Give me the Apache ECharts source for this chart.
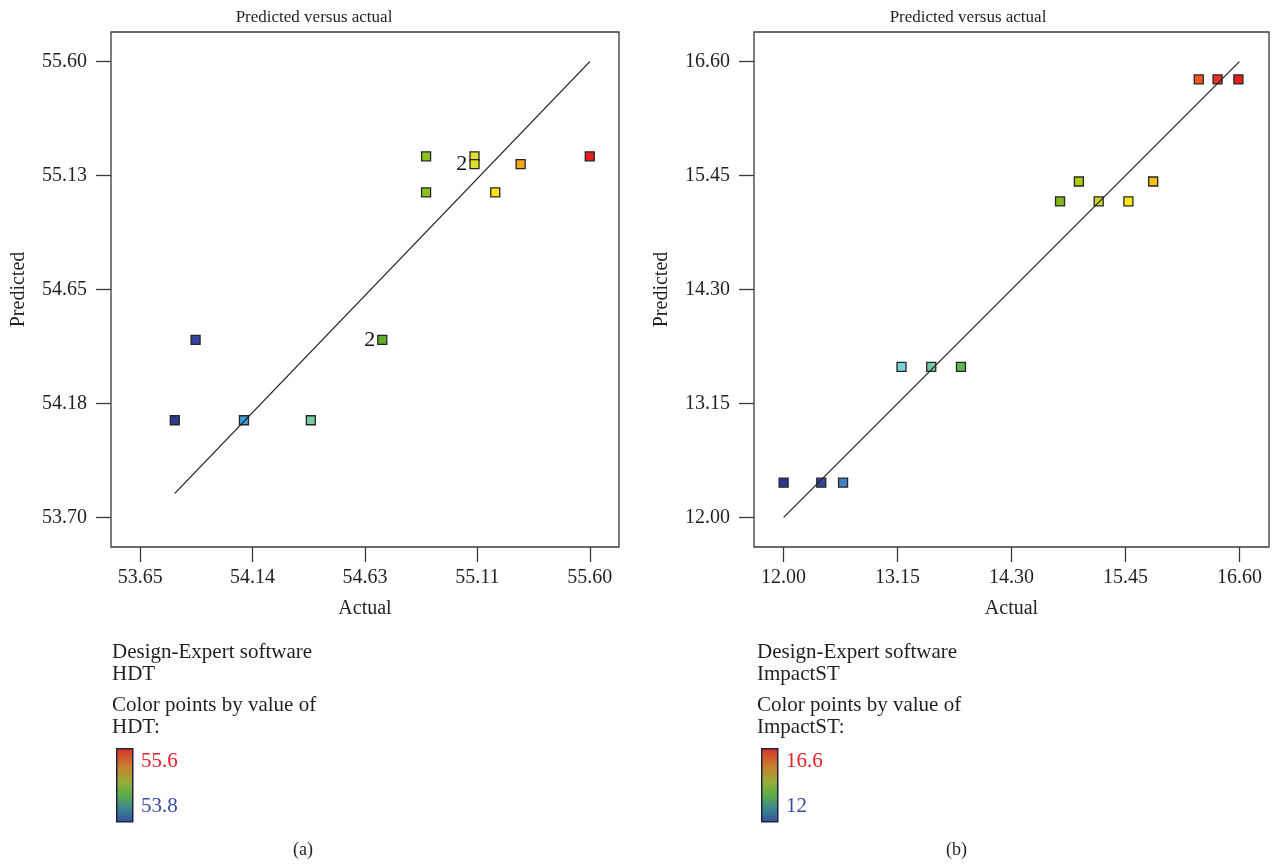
<!DOCTYPE html>
<html><head><meta charset="utf-8">
<script src="https://cdn.jsdelivr.net/npm/echarts@6/dist/echarts.min.js"></script>
<style>html,body{margin:0;padding:0;background:#fff}#c{width:1274px;height:867px}</style>
</head><body><div id="c"></div><script>
// ---- Data (a) HDT ----
const hdtActual    = [53.80, 53.89, 54.10, 54.39, 54.70, 54.89, 54.89, 55.10, 55.10, 55.19, 55.30, 55.60];
const hdtPredicted = [54.105, 54.44, 54.105, 54.105, 54.44, 55.205, 55.055, 55.205, 55.173, 55.055, 55.173, 55.205];
const hdtCount     = [1, 1, 1, 1, 2, 1, 1, 1, 2, 1, 1, 1];
const hdtXTicks    = [53.65, 54.1375, 54.625, 55.1125, 55.60];
const hdtXLabels   = ['53.65', '54.14', '54.63', '55.11', '55.60'];
const hdtYTicks    = [53.70, 54.175, 54.65, 55.125, 55.60];
const hdtYLabels   = ['53.70', '54.18', '54.65', '55.13', '55.60'];
const hdtRange     = [53.8, 55.6];
const hdtRangeLabels = ['55.6', '53.8'];

// ---- Data (b) ImpactST ----
const impActual    = [12.00, 12.38, 12.60, 13.19, 13.49, 13.79, 14.79, 14.98, 15.18, 15.48, 15.73, 16.19, 16.38, 16.59];
const impPredicted = [12.35, 12.35, 12.35, 13.52, 13.52, 13.52, 15.19, 15.39, 15.19, 15.19, 15.39, 16.42, 16.42, 16.42];
const impCount     = [1, 1, 1, 1, 1, 1, 1, 1, 1, 1, 1, 1, 1, 1];
const impXTicks    = [12.00, 13.15, 14.30, 15.45, 16.60];
const impXLabels   = ['12.00', '13.15', '14.30', '15.45', '16.60'];
const impYTicks    = [12.00, 13.15, 14.30, 15.45, 16.60];
const impYLabels   = ['12.00', '13.15', '14.30', '15.45', '16.60'];
const impRange     = [12, 16.6];
const impRangeLabels = ['16.6', '12'];

// ---- Colour scales (value -> colour), style only ----
const hdtStops = [[53.75,'#2b388f'],[53.95,'#374ba3'],[54.10,'#3f9ddb'],[54.40,'#78cc9c'],[54.70,'#5eae26'],
  [54.90,'#8fc21a'],[55.10,'#e0e024'],[55.20,'#ffe312'],[55.30,'#f8a51a'],[55.60,'#e61e1e']];
const impStops = [[12.0,'#2b388f'],[12.4,'#36489e'],[12.6,'#437fc6'],[13.19,'#7cd2dc'],[13.49,'#74c8a0'],
  [13.79,'#62b656'],[14.79,'#83b720'],[14.98,'#aecb10'],[15.18,'#d6d924'],[15.48,'#ffe914'],[15.73,'#f9c214'],
  [16.19,'#f05a1e'],[16.38,'#e63326'],[16.6,'#e61e1e']];
function hex2rgb(h){return [parseInt(h.substr(1,2),16),parseInt(h.substr(3,2),16),parseInt(h.substr(5,2),16)];}
function colorAt(stops, v){
  if (v <= stops[0][0]) return stops[0][1];
  for (let i = 1; i < stops.length; i++) {
    if (v <= stops[i][0]) {
      const t = (v - stops[i-1][0]) / (stops[i][0] - stops[i-1][0]);
      const a = hex2rgb(stops[i-1][1]), b = hex2rgb(stops[i][1]);
      return 'rgb(' + a.map((x, k) => Math.round(x + (b[k] - x) * t)).join(',') + ')';
    }
  }
  return stops[stops.length-1][1];
}

const FONT = 'Liberation Serif';
const TXT = '#231f20';
const FRAME = '#3a3a3a';
const PAD = 0.065;

function nearestLabel(ticks, labels, v){
  let best = 0;
  ticks.forEach((t, i) => { if (Math.abs(t - v) < Math.abs(ticks[best] - v)) best = i; });
  return labels[best];
}
function makeAxis(ticks, labels, idx, isY, name, nameGap){
  const span = ticks[ticks.length-1] - ticks[0];
  return {
    type: 'value', gridIndex: idx,
    min: ticks[0] - span * PAD, max: ticks[ticks.length-1] + span * PAD,
    splitLine: {show: false},
    axisLine: {show: false},
    axisTick: {show: true, inside: false, length: 15, customValues: ticks, lineStyle: {color: FRAME, width: 1.3}},
    axisLabel: {show: true, customValues: ticks, margin: isY ? 24 : 21,
      formatter: v => nearestLabel(ticks, labels, v),
      fontFamily: FONT, fontSize: 20, color: TXT},
    name: name, nameLocation: 'middle', nameGap: nameGap,
    nameTextStyle: {fontFamily: FONT, fontSize: 20, color: TXT}
  };
}
function points(actual, predicted, count){
  return actual.map((a, i) => [a, predicted[i], count[i]]);
}
function scatter(idx, actual, predicted, count, stops){
  return {
    type: 'scatter', xAxisIndex: idx, yAxisIndex: idx, symbol: 'rect', symbolSize: 9,
    data: points(actual, predicted, count),
    itemStyle: {color: p => colorAt(stops, p.value[0]), borderColor: '#262626', borderWidth: 1.3, opacity: 1},
    label: {show: true, position: 'left', distance: 2,
      formatter: p => p.value[2] > 1 ? String(p.value[2]) : '',
      fontFamily: FONT, fontSize: 22, color: '#111', textBorderWidth: 0},
    z: 2
  };
}
function fitLine(idx, range){
  return {
    type: 'line', xAxisIndex: idx, yAxisIndex: idx, symbol: 'none', silent: true,
    data: [[range[0], range[0]], [range[1], range[1]]],
    lineStyle: {color: '#222', width: 1.3}, z: 3
  };
}
function legendBlock(x, resp, rangeLabels){
  const t = (txt, y) => ({type: 'text', left: x, top: y,
    style: {text: txt, font: '21px "' + FONT + '"', fill: TXT}});
  return [
    t('Design-Expert software', 642), t(resp, 664), t('Color points by value of', 695), t(resp + ':', 717),
    {type: 'rect', left: x + 4, top: 748, shape: {width: 16, height: 73},
      style: {fill: new echarts.graphic.LinearGradient(0, 0, 0, 1, [
        {offset: 0, color: '#d9312a'}, {offset: 0.25, color: '#c8802e'}, {offset: 0.45, color: '#9aab3a'},
        {offset: 0.62, color: '#5fae44'}, {offset: 0.8, color: '#3d8a8c'}, {offset: 1, color: '#34509e'}]),
        stroke: '#1e2340', lineWidth: 1.5}},
    {type: 'text', left: x + 29, top: 751, style: {text: rangeLabels[0], font: '21px "' + FONT + '"', fill: '#e3202a'}},
    {type: 'text', left: x + 29, top: 796, style: {text: rangeLabels[1], font: '21px "' + FONT + '"', fill: '#3b4aa0'}}
  ];
}

const chart = echarts.init(document.getElementById('c'), null, {renderer: 'canvas'});
chart.setOption({
  backgroundColor: '#fff',
  animation: false,
  title: [
    {text: 'Predicted versus actual', left: 309, top: 4, textAlign: 'center',
      textStyle: {fontFamily: FONT, fontSize: 17, fontWeight: 'normal', color: TXT}},
    {text: 'Predicted versus actual', left: 963, top: 4, textAlign: 'center',
      textStyle: {fontFamily: FONT, fontSize: 17, fontWeight: 'normal', color: TXT}}
  ],
  grid: [
    {left: 111, top: 32, width: 508, height: 515, show: true, borderColor: FRAME, borderWidth: 1.3, backgroundColor: '#fff'},
    {left: 754, top: 32, width: 515, height: 515, show: true, borderColor: FRAME, borderWidth: 1.3, backgroundColor: '#fff'}
  ],
  xAxis: [
    makeAxis(hdtXTicks, hdtXLabels, 0, false, 'Actual', 52),
    makeAxis(impXTicks, impXLabels, 1, false, 'Actual', 52)
  ],
  yAxis: [
    makeAxis(hdtYTicks, hdtYLabels, 0, true, 'Predicted', 82),
    makeAxis(impYTicks, impYLabels, 1, true, 'Predicted', 82)
  ],
  series: [
    scatter(0, hdtActual, hdtPredicted, hdtCount, hdtStops),
    fitLine(0, hdtRange),
    scatter(1, impActual, impPredicted, impCount, impStops),
    fitLine(1, impRange)
  ],
  graphic: [
    ...legendBlock(112, 'HDT', hdtRangeLabels),
    ...legendBlock(757, 'ImpactST', impRangeLabels),
    {type: 'text', left: 293, top: 841, style: {text: '(a)', font: '18px "' + FONT + '"', fill: TXT}},
    {type: 'text', left: 946, top: 841, style: {text: '(b)', font: '18px "' + FONT + '"', fill: TXT}}
  ]
});
</script></body></html>
